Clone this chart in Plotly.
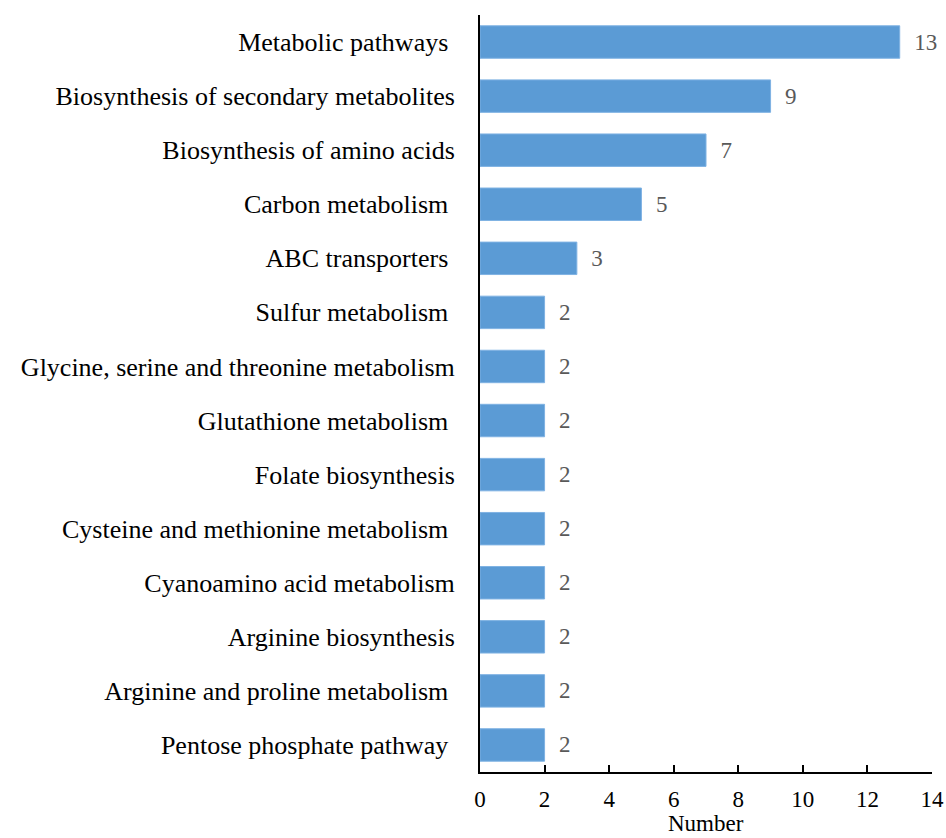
import plotly.graph_objects as go

# KEGG pathway categories (top to bottom) and their counts
pathways = [
    "Metabolic pathways\u00a0",
    "Biosynthesis of secondary metabolites",
    "Biosynthesis of amino acids",
    "Carbon metabolism\u00a0",
    "ABC transporters\u00a0",
    "Sulfur metabolism\u00a0",
    "Glycine, serine and threonine metabolism",
    "Glutathione metabolism\u00a0",
    "Folate biosynthesis",
    "Cysteine and methionine metabolism\u00a0",
    "Cyanoamino acid metabolism",
    "Arginine biosynthesis",
    "Arginine and proline metabolism\u00a0",
    "Pentose phosphate pathway\u00a0",
]
counts = [13, 9, 7, 5, 3, 2, 2, 2, 2, 2, 2, 2, 2, 2]
x_ticks = [0, 2, 4, 6, 8, 10, 12, 14]
x_title = "Number"

serif = "Liberation Serif, Times New Roman, serif"

fig = go.Figure(
    go.Bar(
        x=counts,
        y=pathways,
        orientation="h",
        width=0.6,
        marker=dict(color="#5B9BD5", line=dict(color="#7FB2E3", width=1)),
        text=["\u2002" + str(c) for c in counts],
        textposition="outside",
        textfont=dict(family=serif, size=23, color="#595959"),
        cliponaxis=False,
    )
)

fig.update_layout(
    width=946,
    height=838,
    margin=dict(l=480, r=14, t=15, b=66),
    paper_bgcolor="white",
    plot_bgcolor="white",
    showlegend=False,
    font=dict(family=serif, size=23, color="black"),
)

fig.update_xaxes(
    range=[0, 14],
    tickvals=x_ticks,
    ticktext=[str(t) for t in x_ticks],
    automargin=False,
    showgrid=False,
    zeroline=False,
    showline=True,
    linecolor="black",
    linewidth=2,
    ticks="inside",
    ticklen=7,
    tickwidth=1.5,
    tickcolor="black",
    ticklabelstandoff=5,
    tickfont=dict(family=serif, size=23, color="black"),
)

# axis title sits low, just under the tick labels at the page edge
fig.add_annotation(
    text=x_title,
    xref="x domain",
    yref="paper",
    x=0.5,
    y=0,
    yshift=-37,
    xanchor="center",
    yanchor="top",
    showarrow=False,
    font=dict(family=serif, size=23, color="black"),
)

fig.update_yaxes(
    categoryorder="array",
    categoryarray=pathways[::-1],
    range=[-0.5, 13.5],
    automargin=False,
    showgrid=False,
    zeroline=False,
    showline=True,
    linecolor="black",
    linewidth=2,
    ticks="",
    ticklabelstandoff=18,
    tickfont=dict(family=serif, size=26, color="black"),
)

fig.write_html("out.html")
